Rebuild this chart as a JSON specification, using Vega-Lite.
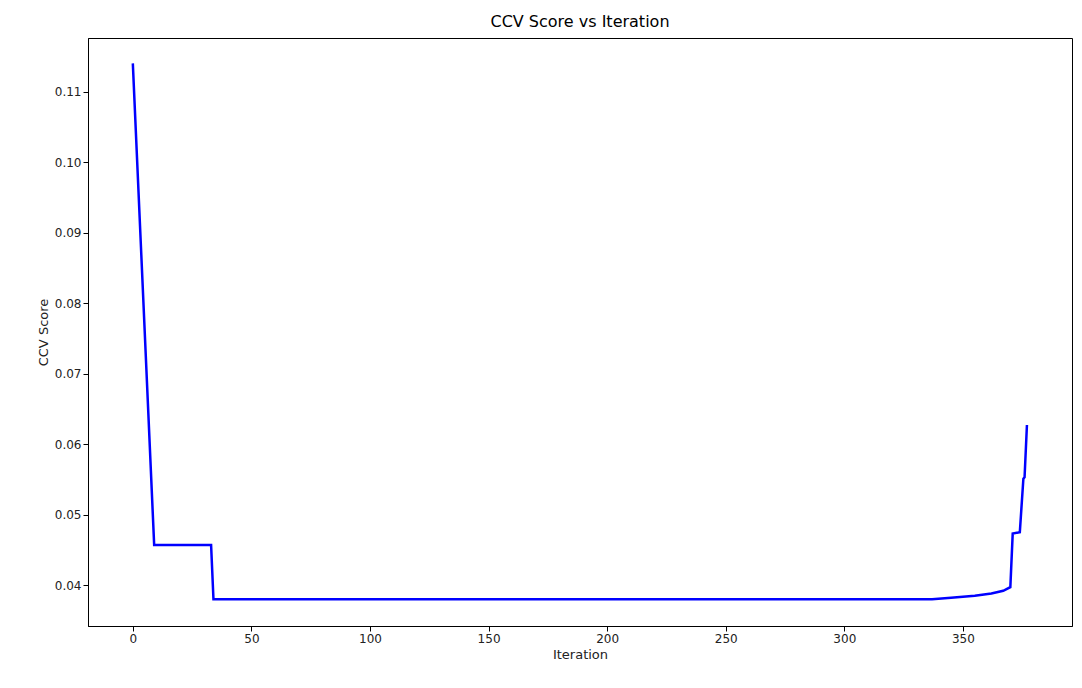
{"$schema":"https://vega.github.io/schema/vega-lite/v6.json","width":984,"height":588,"background":"white","autosize":{"type":"none"},"padding":{"left":88,"top":38,"right":10,"bottom":62},
"title":{"text":"CCV Score vs Iteration","font":"DejaVu Sans","fontSize":16,"fontWeight":"normal","offset":8},
"data":{"values":[{"i":0,"s":0.114},{"i":9,"s":0.0457},{"i":20,"s":0.0457},{"i":33,"s":0.0457},{"i":34,"s":0.038},{"i":100,"s":0.038},{"i":200,"s":0.038},{"i":337,"s":0.038},{"i":345,"s":0.0382},{"i":355,"s":0.0385},{"i":362,"s":0.0388},{"i":367,"s":0.0392},{"i":370,"s":0.0397},{"i":371,"s":0.0473},{"i":374,"s":0.0475},{"i":375.5,"s":0.0551},{"i":376,"s":0.0553},{"i":377,"s":0.0627}]},
"mark":{"type":"line","color":"#0000ff","strokeWidth":2.5},
"encoding":{
"x":{"field":"i","type":"quantitative","title":"Iteration","scale":{"domain":[-18.9,396]},"axis":{"values":[0,50,100,150,200,250,300,350],"grid":false,"labelFont":"DejaVu Sans","titleFont":"DejaVu Sans","labelFontSize":12,"titleFontSize":13,"titleFontWeight":"normal","labelColor":"#222","titleColor":"#222","domainColor":"#000","tickColor":"#000"}},
"y":{"field":"s","type":"quantitative","title":"CCV Score","scale":{"domain":[0.0342,0.1176],"zero":false},"axis":{"values":[0.04,0.05,0.06,0.07,0.08,0.09,0.1,0.11],"format":".2f","grid":false,"labelFont":"DejaVu Sans","titleFont":"DejaVu Sans","labelFontSize":12,"titleFontSize":13,"titleFontWeight":"normal","labelColor":"#222","titleColor":"#222","domainColor":"#000","tickColor":"#000"}}},
"config":{"view":{"stroke":"#000","strokeWidth":1}}}
